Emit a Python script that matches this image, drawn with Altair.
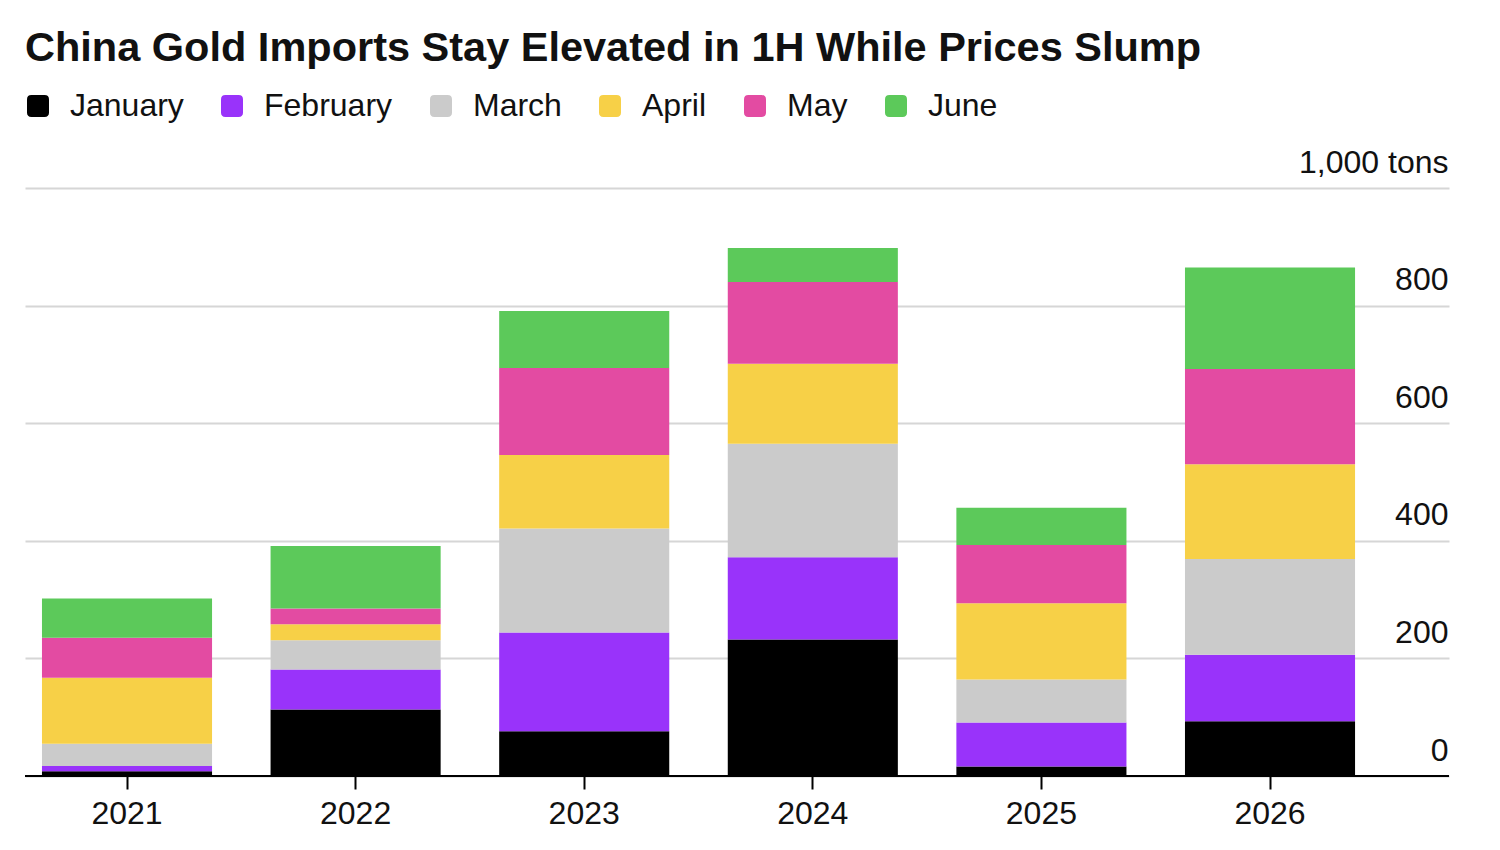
import altair as alt
import pandas as pd

years = ["2021", "2022", "2023", "2024", "2025", "2026"]
months = ["January", "February", "March", "April", "May", "June"]
january = [8, 113, 76, 232, 16, 93]
february = [9, 68, 168, 140, 75, 113]
march = [38, 50, 177, 193, 73, 163]
april = [112, 27, 125, 136, 130, 161]
may = [68, 27, 148, 139, 99, 162]
june = [67, 106, 97, 58, 63, 173]
colors = ["#000000", "#9933FA", "#CBCBCB", "#F7D047", "#E34BA2", "#5CC95A"]
y_ticks = [0, 200, 400, 600, 800, 1000]

series = [january, february, march, april, may, june]
rows = []
for mi, (m, vals) in enumerate(zip(months, series)):
    for y, v in zip(years, vals):
        rows.append({"Year": y, "Month": m, "Order": mi, "Tons": v})
df = pd.DataFrame(rows)

FONT = "Liberation Sans"
ROUNDED = "M-1,-0.6Q-1,-1,-0.6,-1L0.6,-1Q1,-1,1,-0.6L1,0.6Q1,1,0.6,1L-0.6,1Q-1,1,-1,0.6Z"

bars = alt.Chart(df).mark_bar().encode(
    x=alt.X(
        "Year:N",
        sort=years,
        scale=alt.Scale(paddingInner=0.256, paddingOuter=0.2426, align=0.153),
        axis=alt.Axis(
            title=None, domain=False, ticks=True, tickSize=13, tickColor="#000000",
            tickWidth=2, labelFontSize=32, labelFont=FONT, labelColor="#111111",
            labelPadding=9, labelAngle=0, grid=False,
        ),
    ),
    y=alt.Y(
        "Tons:Q",
        stack="zero",
        scale=alt.Scale(domain=[0, 1000], nice=False),
        axis=alt.Axis(
            title=None, orient="right", values=y_ticks, grid=True,
            gridColor="#D6D6D6", gridWidth=2, domain=False, ticks=False,
            labelAlign="right", labelBaseline="alphabetic", labelPadding=-1,
            labelOffset=-16, labelFontSize=32, labelFont=FONT, labelColor="#111111",
            labelFlush=False, labelOverlap=False, labelBound=False,
            labelExpr="datum.value == 1000 ? '1,000 tons' : format(datum.value, ',')",
        ),
    ),
    color=alt.Color(
        "Month:N",
        sort=months,
        scale=alt.Scale(domain=months, range=colors),
        legend=alt.Legend(
            title=None, orient="none", legendX=-3, legendY=-98, direction="horizontal",
            symbolType=ROUNDED, symbolSize=484, symbolStrokeWidth=0, symbolOpacity=1,
            labelFontSize=32, labelFont=FONT, labelColor="#111111", labelOffset=16,
            columnPadding=32, padding=0,
        ),
    ),
    order=alt.Order("Order:Q", sort="ascending"),
)

baseline = alt.Chart(pd.DataFrame({"v": [0]})).mark_rule(
    color="#000000", strokeWidth=2
).encode(y=alt.datum(0))

chart = alt.layer(bars, baseline).properties(
    width=1424,
    height=588,
    title=alt.Title(
        "China Gold Imports Stay Elevated in 1H While Prices Slump",
        anchor="start", frame="group", fontSize=41.5, font=FONT,
        fontWeight="bold", color="#111111", offset=21,
    ),
    autosize=alt.AutoSizeParams(type="none"),
    padding={"left": 17, "top": 180, "right": 43, "bottom": 66},
).configure(background="white").configure_view(stroke=None)

chart.save("out.html", embed_options={"renderer": "svg", "actions": False})
